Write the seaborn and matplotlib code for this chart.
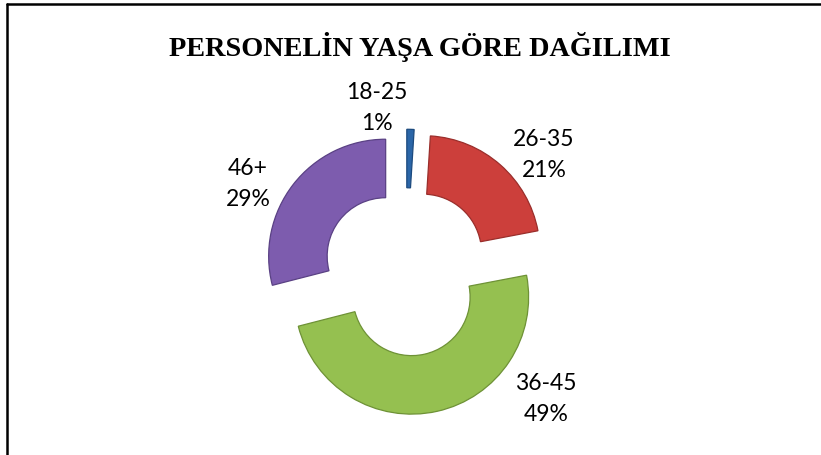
import matplotlib
matplotlib.use("Agg")
import matplotlib.pyplot as plt
import seaborn as sns
from matplotlib.lines import Line2D

categories = ["18-25", "26-35", "36-45", "46+"]
shares = [1, 21, 49, 29]
pct_labels = ["1%", "21%", "49%", "29%"]
title = "PERSONELİN YAŞA GÖRE DAĞILIMI"

sns.set_theme(style="white")
plt.rcParams['font.family'] = ['Lato', 'DejaVu Sans']

colors = ["#2B66A8", "#CC3F3B", "#95C050", "#7D5CAE"]
edge_colors = ["#1C4A7E", "#9A2E2B", "#6E9236", "#5A4184"]

W, H = 821, 456
fig = plt.figure(figsize=(W / 100, H / 100), dpi=100)
ax = fig.add_axes([0, 0, 1, 1])

cx, cy, R = 406, 273, 117  # pixel centre and radius of the pie

wedges, _ = ax.pie(shares, startangle=90, counterclock=False,
                   explode=[0.22] * len(shares), colors=colors,
                   radius=1.0,
                   wedgeprops=dict(width=0.5, linewidth=0.9))
for w, ec in zip(wedges, edge_colors):
    w.set_edgecolor(ec)

ax.set_aspect('auto')
ax.set_xlim((0 - cx) / R, (W - cx) / R)
ax.set_ylim((cy - H) / R, cy / R)
ax.axis('off')

label_pos = [(377, 108), (544, 155), (546, 399), (248, 184)]
for cat, pct, (px, py) in zip(categories, pct_labels, label_pos):
    ax.text((px - cx) / R, (cy - py) / R, f"{cat}\n{pct}", ha='center', va='center',
            fontsize=16.5, color='black', linespacing=1.62,
            family=['Lato', 'DejaVu Sans'])

fig.text(420 / W, 1 - 47 / H, title, ha='center', va='center', color='black',
         fontsize=20.3, fontweight='bold', family=['Liberation Serif', 'DejaVu Serif'])

# chart frame (left and top edges)
fig.add_artist(Line2D([6.5 / W, 6.5 / W], [0, 1 - 4.5 / H], transform=fig.transFigure,
                      color='black', linewidth=1.8))
fig.add_artist(Line2D([6.5 / W, 1], [1 - 4.5 / H, 1 - 4.5 / H], transform=fig.transFigure,
                      color='black', linewidth=1.8))

fig.savefig("out.png", dpi=100, facecolor='white')
